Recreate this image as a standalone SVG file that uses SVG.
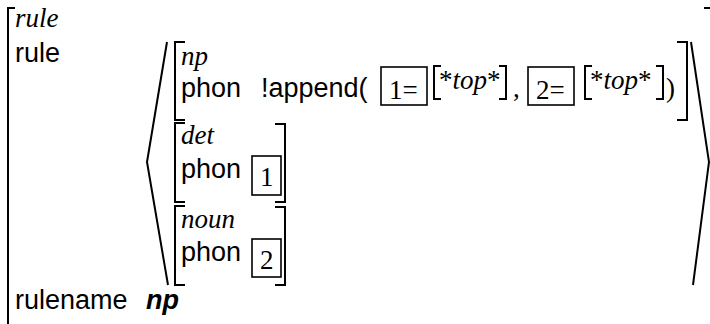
<svg xmlns="http://www.w3.org/2000/svg" width="710" height="324" viewBox="0 0 710 324">
  <style>
    .br { fill: none; stroke: #000; stroke-width: 2; }
    .bx { fill: none; stroke: #000; stroke-width: 1.6; }
    .sans { font-family: "Liberation Sans", Arial, sans-serif; font-size: 27px; fill: #000; }
    .it { font-family: "Liberation Serif", "Times New Roman", serif; font-style: italic; font-size: 27px; fill: #000; }
    .rm { font-family: "Liberation Serif", "Times New Roman", serif; font-size: 27px; fill: #000; }
    .bi { font-family: "Liberation Sans", Arial, sans-serif; font-weight: bold; font-style: italic; font-size: 27px; fill: #000; }
  </style>

  <!-- outer rule structure -->
  <g id="rule">
    <polyline class="br" points="15,8 8,8 8,324"/>
    <line class="br" x1="704" y1="8" x2="710" y2="8"/>
    <text class="it" x="15" y="27">rule</text>
    <text class="sans" x="15" y="62">rule</text>
    <text class="sans" x="15" y="309">rulename</text>
    <text class="bi" x="146" y="309">np</text>
  </g>

  <!-- list angle brackets -->
  <g id="list">
    <polyline class="br" points="167,42 147,162 168,285"/>
    <polyline class="br" points="691,42 709,162 693,285"/>
  </g>

  <!-- np daughter -->
  <g id="np">
    <polyline class="br" points="185,42 175,42 175,120 185,120"/>
    <polyline class="br" points="677,42 687,42 687,120 677,120"/>
    <text class="it" x="181" y="65">np</text>
    <text class="sans" x="181" y="97">phon</text>
    <text class="sans" x="261" y="97">!append(</text>
    <rect class="bx" x="381" y="67" width="46" height="38"/>
    <text class="rm" x="389" y="99">1=</text>
    <polyline class="br" points="441,66 434,66 434,99 441,99"/>
    <text class="rm" x="439" y="89">*<tspan class="it">top</tspan>*</text>
    <polyline class="br" points="499,66 506,66 506,99 499,99"/>
    <text class="rm" x="513" y="97">,</text>
    <rect class="bx" x="528" y="67" width="46" height="38"/>
    <text class="rm" x="536" y="99">2=</text>
    <polyline class="br" points="592,66 585,66 585,99 592,99"/>
    <text class="rm" x="590" y="89">*<tspan class="it">top</tspan>*</text>
    <polyline class="br" points="656,66 663,66 663,99 656,99"/>
    <text class="rm" x="666" y="97">)</text>
  </g>

  <!-- det daughter -->
  <g id="det">
    <polyline class="br" points="185,123 175,123 175,202 185,202"/>
    <polyline class="br" points="275,124 285,124 285,202 275,202"/>
    <text class="it" x="181" y="144">det</text>
    <text class="sans" x="181" y="178">phon</text>
    <rect class="bx" x="252" y="156" width="29" height="39"/>
    <text class="rm" x="260" y="186">1</text>
  </g>

  <!-- noun daughter -->
  <g id="noun">
    <polyline class="br" points="185,206 175,206 175,285 185,285"/>
    <polyline class="br" points="275,207 285,207 285,285 275,285"/>
    <text class="it" x="181" y="228">noun</text>
    <text class="sans" x="181" y="261">phon</text>
    <rect class="bx" x="252" y="239" width="29" height="38"/>
    <text class="rm" x="260" y="269">2</text>
  </g>
</svg>
